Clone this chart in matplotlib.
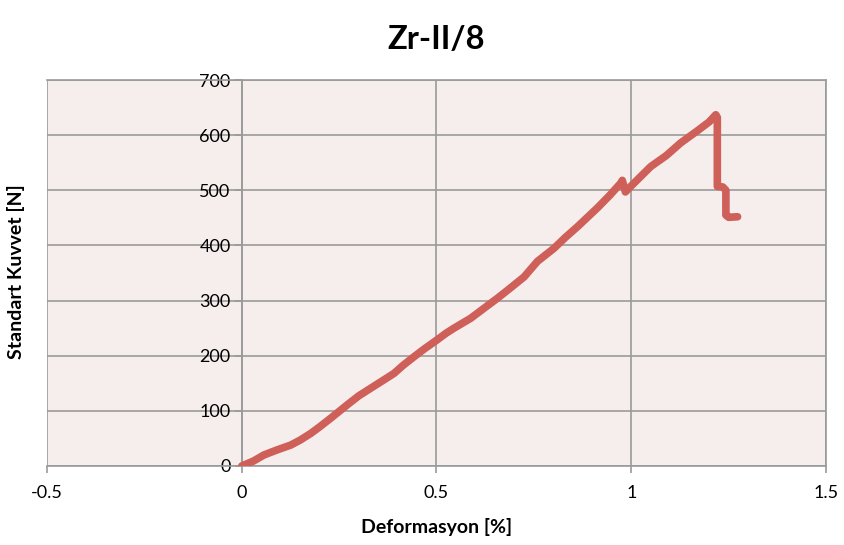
import matplotlib
matplotlib.use("Agg")
import matplotlib.pyplot as plt

plt.rcParams['font.family'] = ['Lato', 'DejaVu Sans']

# Deformasyon [%] vs Standart Kuvvet [N]
deform = [0.0, 0.01, 0.03, 0.057, 0.09, 0.126, 0.15, 0.177, 0.2, 0.229,
          0.271, 0.3, 0.331, 0.36, 0.391, 0.415, 0.442, 0.47,
          0.502, 0.525, 0.545, 0.588, 0.62, 0.656, 0.69, 0.725, 0.759, 0.802,
          0.83, 0.862, 0.913, 0.945, 0.973, 0.977, 0.985, 1.0, 1.02, 1.05,
          1.09, 1.127, 1.17, 1.2, 1.217, 1.221,
          1.221, 1.235, 1.243, 1.243, 1.25, 1.273]
kuvvet = [0, 3, 9, 20, 29, 38, 47, 59, 71, 87,
          111, 127, 141, 154, 168, 183, 198, 213,
          229, 241, 250, 268, 285, 304, 323, 343, 371, 395,
          414, 434, 468, 491, 513, 518, 497, 508, 522, 543,
          563, 586, 608, 624, 637, 632,
          507, 506, 500, 455, 451, 452]

xticks = [-0.5, 0, 0.5, 1, 1.5]
xlabels = ['-0.5', '0', '0.5', '1', '1.5']
yticks = list(range(0, 701, 100))

fig = plt.figure(figsize=(8.45, 5.45), dpi=100)
ax = fig.add_axes([47 / 845, 79 / 545, 779 / 845, 386 / 545])
ax.set_facecolor('#F6EEED')

ax.plot(deform, kuvvet, color='#CF5F59', lw=5.5, solid_capstyle='round',
        solid_joinstyle='round', zorder=3)

ax.set_xlim(-0.5, 1.5)
ax.set_ylim(0, 700)
ax.set_xticks(xticks)
ax.set_xticklabels(xlabels)
ax.set_yticks(yticks)

grid_c = '#9A9A9A'
ax.grid(True, color=grid_c, lw=1.2)
for s in ['top', 'right', 'bottom']:
    ax.spines[s].set_color(grid_c)
    ax.spines[s].set_linewidth(1.2)
ax.spines['left'].set_position(('data', 0))
ax.spines['left'].set_color(grid_c)
ax.spines['left'].set_linewidth(1.2)
ax.tick_params(axis='both', colors=grid_c, labelcolor='black', labelsize=13,
               length=5, width=1.2)
ax.tick_params(axis='x', pad=9)
ax.tick_params(axis='y', pad=3)

ax.set_title('Zr-II/8', fontsize=23.5, fontweight='bold', pad=22)
ax.set_xlabel('Deformasyon [%]', fontsize=14, fontweight='bold', labelpad=12)
ax.set_ylabel('Standart Kuvvet [N]', fontsize=14, fontweight='bold')
ax.yaxis.set_label_coords(16 / 845, 273 / 545, transform=fig.transFigure)
ax.yaxis.label.set_va('center')

fig.savefig('out.png', dpi=100)
